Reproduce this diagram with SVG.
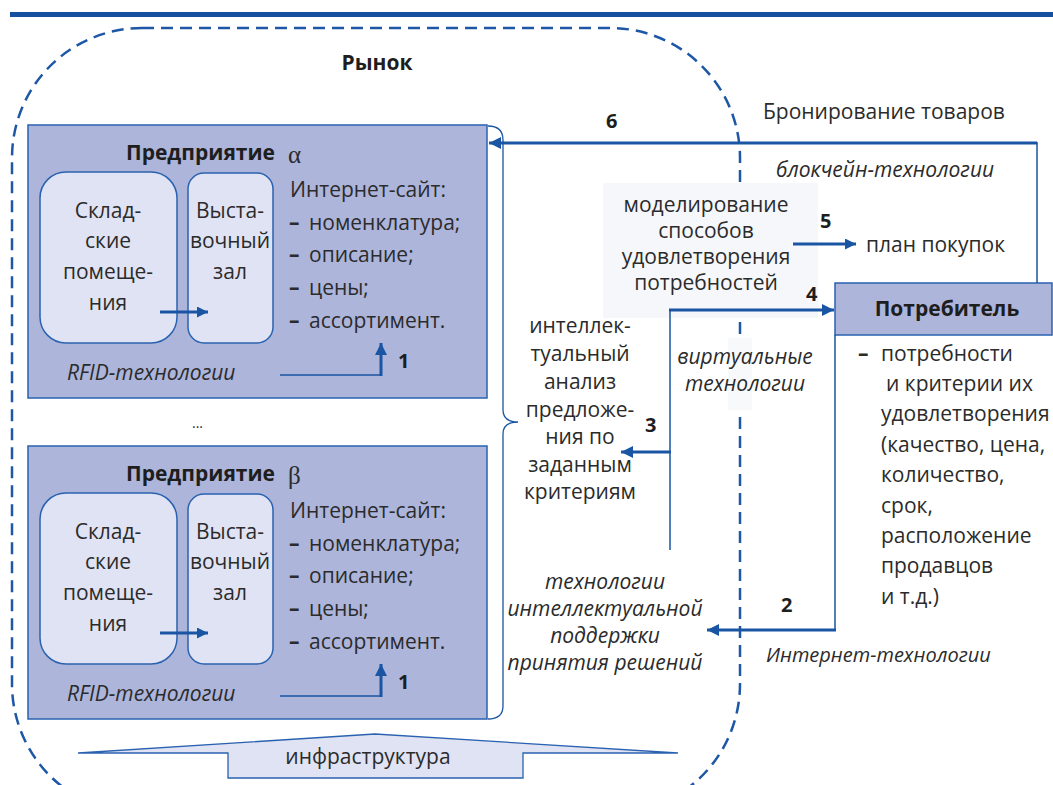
<svg xmlns="http://www.w3.org/2000/svg" width="1053" height="785" viewBox="0 0 1053 785">
<defs>
<style>
.t{font-family:"Open Sans","Noto Sans","DejaVu Sans",sans-serif;font-size:21px;fill:#2b2b2b}
.c{text-anchor:middle}
.b{font-weight:bold;fill:#1e1e1e}
.i{font-style:italic}
.d{font-weight:bold}
.s20{font-size:20px}
.s14{font-size:14px}
.n{font-family:"Open Sans","Noto Sans",sans-serif;font-size:20px;font-weight:bold;fill:#1e1e1e}
.g{font-family:"Liberation Serif","DejaVu Serif",serif;font-size:25px;fill:#2b2b2b}
.ln{stroke:#1a55a3;fill:none}
.ent{fill:#adb5db;stroke:#2a62b0;stroke-width:1.5}
.in{fill:#e0e3f3;stroke:#2a62b0;stroke-width:1.5}
</style>
<marker id="ah" viewBox="0 0 10 10" refX="10" refY="5" markerWidth="14" markerHeight="12" markerUnits="userSpaceOnUse" orient="auto">
<path d="M0,0 L10,5 L0,10 z" fill="#1a55a3"/>
</marker>
<marker id="ahs" viewBox="0 0 10 10" refX="10" refY="5" markerWidth="12" markerHeight="11" markerUnits="userSpaceOnUse" orient="auto">
<path d="M0,0 L10,5 L0,10 z" fill="#1a55a3"/>
</marker>
</defs>
<rect x="0" y="0" width="1053" height="785" fill="#ffffff"/>
<rect x="10" y="12" width="1043" height="5" fill="#1650a0"/>

<g id="market">
<rect x="12" y="28" width="728" height="786" rx="130" ry="130" fill="none" stroke="#1d57a5" stroke-width="2.5" stroke-dasharray="12 7"/>
<text class="t b c" x="377" y="70">Рынок</text>
</g>

<g id="modeling">
<rect x="603" y="183" width="215" height="135" fill="#f6f7fa"/>
<text class="t c" x="706" y="212">моделирование</text>
<text class="t c" x="706" y="238">способов</text>
<text class="t c" x="706" y="264">удовлетворения</text>
<text class="t c" x="706" y="290">потребностей</text>
</g>

<g id="virtual">
<rect x="728" y="338" width="24" height="72" fill="#f8f9fb"/>
<text class="t i c" x="745" y="364">виртуальные</text>
<text class="t i c" x="745" y="391">технологии</text>
</g>

<g id="enterprise-alpha">
<rect class="ent" x="28" y="125" width="459" height="273"/>
<text class="t b" x="126" y="160">Предприятие</text>
<text class="g" x="288" y="163">α</text>
<rect class="in" x="40" y="172" width="137" height="171" rx="26"/>
<text class="t c" x="108" y="218">Склад-</text>
<text class="t c" x="108" y="248">ские</text>
<text class="t c" x="108" y="279">помеще-</text>
<text class="t c" x="108" y="310">ния</text>
<rect class="in" x="188" y="173" width="85" height="170" rx="16"/>
<text class="t c" x="230" y="218">Выста-</text>
<text class="t c" x="230" y="248">вочный</text>
<text class="t c" x="230" y="279">зал</text>
<text class="t" x="290" y="197">Интернет-сайт:</text>
<text class="t" y="230"><tspan class="d" x="289">–</tspan><tspan x="309">номенклатура;</tspan></text>
<text class="t" y="262"><tspan class="d" x="289">–</tspan><tspan x="309">описание;</tspan></text>
<text class="t" y="295"><tspan class="d" x="289">–</tspan><tspan x="309">цены;</tspan></text>
<text class="t" y="328"><tspan class="d" x="289">–</tspan><tspan x="309">ассортимент.</tspan></text>
<text class="t i" x="67" y="380">RFID-технологии</text>
<text class="n" x="398" y="368">1</text>
</g>

<text class="t s14" x="192" y="428">...</text>

<g id="enterprise-beta">
<rect class="ent" x="28" y="446" width="459" height="273"/>
<text class="t b" x="126" y="481">Предприятие</text>
<text class="g" x="288" y="484">β</text>
<rect class="in" x="40" y="493" width="137" height="171" rx="26"/>
<text class="t c" x="108" y="539">Склад-</text>
<text class="t c" x="108" y="569">ские</text>
<text class="t c" x="108" y="600">помеще-</text>
<text class="t c" x="108" y="631">ния</text>
<rect class="in" x="188" y="494" width="85" height="170" rx="16"/>
<text class="t c" x="230" y="539">Выста-</text>
<text class="t c" x="230" y="569">вочный</text>
<text class="t c" x="230" y="600">зал</text>
<text class="t" x="290" y="518">Интернет-сайт:</text>
<text class="t" y="551"><tspan class="d" x="289">–</tspan><tspan x="309">номенклатура;</tspan></text>
<text class="t" y="583"><tspan class="d" x="289">–</tspan><tspan x="309">описание;</tspan></text>
<text class="t" y="616"><tspan class="d" x="289">–</tspan><tspan x="309">цены;</tspan></text>
<text class="t" y="649"><tspan class="d" x="289">–</tspan><tspan x="309">ассортимент.</tspan></text>
<text class="t i" x="67" y="701">RFID-технологии</text>
<text class="n" x="398" y="689">1</text>
</g>

<g id="consumer">
<rect class="ent" x="835" y="283" width="217" height="52"/>
<text class="t b c" x="947" y="316">Потребитель</text>
<text class="t d" x="858" y="361">–</text>
<text class="t" x="881" y="361">потребности</text>
<text class="t" x="886" y="391">и критерии их</text>
<text class="t" x="881" y="421">удовлетворения</text>
<text class="t" x="881" y="452">(качество, цена,</text>
<text class="t" x="881" y="482">количество,</text>
<text class="t" x="881" y="513">срок,</text>
<text class="t" x="881" y="543">расположение</text>
<text class="t" x="881" y="573">продавцов</text>
<text class="t" x="881" y="604">и т.д.)</text>
</g>

<g id="analysis">
<text class="t c" x="580" y="333">интеллек-</text>
<text class="t c" x="580" y="361">туальный</text>
<text class="t c" x="580" y="389">анализ</text>
<text class="t c" x="580" y="417">предложе-</text>
<text class="t c" x="580" y="444">ния по</text>
<text class="t c" x="580" y="472">заданным</text>
<text class="t c" x="580" y="499">критериям</text>
</g>

<g id="labels">
<text class="t" x="763" y="119">Бронирование товаров</text>
<text class="t i" x="776" y="177">блокчейн-технологии</text>
<text class="t" x="866" y="252">план покупок</text>
<text class="t i c" x="605" y="589">технологии</text>
<text class="t i c" x="605" y="616">интеллектуальной</text>
<text class="t i c" x="605" y="643">поддержки</text>
<text class="t i c" x="605" y="670">принятия решений</text>
<text class="t i s20" x="766" y="662">Интернет-технологии</text>
<text class="n" x="606" y="128">6</text>
<text class="n" x="820" y="228">5</text>
<text class="n" x="806" y="301">4</text>
<text class="n" x="645" y="432">3</text>
<text class="n" x="781" y="612">2</text>
</g>

<g id="infrastructure">
<path d="M78,753 L375,734 L678,753 L523,753 L523,778 L228,778 L228,753 Z" fill="#e0e3f3" stroke="#2a62b0" stroke-width="1.3"/>
<text class="t c" x="368" y="764">инфраструктура</text>
</g>

<g id="connectors">
<path class="ln" stroke-width="1.3" d="M488,126 Q503,126 503,140 L503,410 Q503,422 518,422 Q503,422 503,434 L503,706 Q503,719 488,719"/>
<line class="ln" stroke-width="3" x1="160" y1="312" x2="208" y2="312" marker-end="url(#ahs)"/>
<line class="ln" stroke-width="3" x1="160" y1="633" x2="208" y2="633" marker-end="url(#ahs)"/>
<path class="ln" stroke-width="1.5" d="M280,375 L381,375"/>
<line class="ln" stroke-width="3" x1="381" y1="376" x2="381" y2="343" marker-end="url(#ah)"/>
<path class="ln" stroke-width="1.5" d="M280,696 L381,696"/>
<line class="ln" stroke-width="3" x1="381" y1="697" x2="381" y2="664" marker-end="url(#ah)"/>
<line class="ln" stroke-width="3" x1="1037" y1="143" x2="489" y2="143" marker-end="url(#ah)"/>
<line class="ln" stroke-width="1.5" x1="1037" y1="142" x2="1037" y2="283"/>
<line class="ln" stroke-width="3" x1="793" y1="244" x2="856" y2="244" marker-end="url(#ahs)"/>
<line class="ln" stroke-width="3" x1="669" y1="310" x2="834" y2="310" marker-end="url(#ah)"/>
<line class="ln" stroke-width="1.5" x1="670" y1="309" x2="670" y2="550"/>
<line class="ln" stroke-width="3" x1="671" y1="452" x2="621" y2="452" marker-end="url(#ah)"/>
<path class="ln" stroke-width="1.5" d="M835,335 L835,630"/>
<line class="ln" stroke-width="3" x1="836" y1="630" x2="707" y2="630" marker-end="url(#ah)"/>
</g>
</svg>
